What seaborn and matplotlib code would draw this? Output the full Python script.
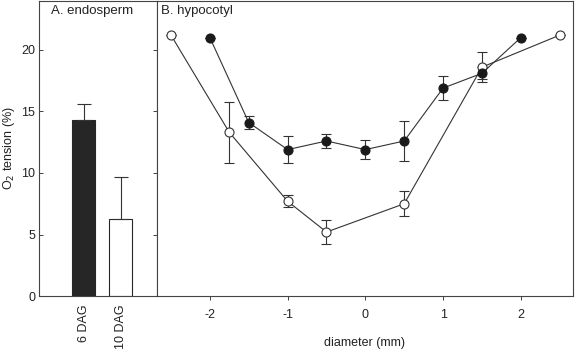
import numpy as np
import pandas as pd
import matplotlib
matplotlib.use("Agg")
import matplotlib.pyplot as plt
import seaborn as sns

# panel A: endosperm
stages = ["6 DAG", "10 DAG"]
endo_mean = [14.3, 6.3]
endo_err = [1.3, 3.4]

# panel B: hypocotyl
diam_open = [-2.5, -1.75, -1.0, -0.5, 0.5, 1.5, 2.5]
o2_open = [21.2, 13.3, 7.7, 5.2, 7.5, 18.6, 21.2]
err_open = [0, 2.5, 0.5, 1.0, 1.0, 1.2, 0]

diam_filled = [-2.0, -1.5, -1.0, -0.5, 0.0, 0.5, 1.0, 1.5, 2.0]
o2_filled = [21.0, 14.1, 11.9, 12.6, 11.9, 12.6, 16.9, 18.1, 21.0]
err_filled = [0, 0.5, 1.1, 0.55, 0.8, 1.65, 0.95, 0.5, 0]

sns.set_style("ticks")
plt.rcParams["font.family"] = ["Liberation Sans", "DejaVu Sans"]
plt.rcParams["axes.unicode_minus"] = False
line_col = "#333333"

fig = plt.figure(figsize=(5.76, 3.52), dpi=100)
ax1 = fig.add_axes([0.068, 0.159, 0.2046, 0.839])
ax2 = fig.add_axes([0.2726, 0.159, 0.722, 0.839])

# --- panel A
df_a = pd.DataFrame({"stage": stages, "o2": endo_mean})
sns.barplot(data=df_a, x="stage", y="o2", ax=ax1, width=0.62,
            palette=["#262626", "white"], hue="stage", legend=False,
            edgecolor="#262626", linewidth=0.8)
ax1.errorbar([0, 1], endo_mean, yerr=[[0, 0], endo_err], fmt="none",
             ecolor=line_col, elinewidth=0.8, capsize=5, capthick=0.8)
ax1.set_xlim(-1.2, 1.98)
ax1.set_ylim(0, 24)
ax1.set_yticks([0, 5, 10, 15, 20])
ax1.set_xlabel("")
ax1.set_ylabel("O$_2$ tension (%)", fontsize=9, color="#222222")
ax1.yaxis.set_label_coords(-0.185, 0.5)
ax1.tick_params(axis="x", rotation=90, length=0, labelsize=9, colors="#222222",
                pad=6)
ax1.tick_params(axis="y", labelsize=9, colors="#222222", length=3, width=0.6,
                right=True, direction="in", pad=3)
ax1.text(0.1, 0.985, "A. endosperm", transform=ax1.transAxes, fontsize=9.5,
         va="top", ha="left", color="#222222")

# --- panel B
df_open = pd.DataFrame({"diameter": diam_open, "o2": o2_open})
df_filled = pd.DataFrame({"diameter": diam_filled, "o2": o2_filled})
ax2.errorbar(diam_open, o2_open, yerr=err_open, fmt="none", ecolor=line_col,
             elinewidth=0.8, capsize=3.5, capthick=0.8, zorder=1)
ax2.errorbar(diam_filled, o2_filled, yerr=err_filled, fmt="none",
             ecolor=line_col, elinewidth=0.8, capsize=3.5, capthick=0.8,
             zorder=1)
sns.lineplot(data=df_open, x="diameter", y="o2", ax=ax2, color=line_col,
             linewidth=0.8, marker="o", markersize=6.5,
             markerfacecolor="white", markeredgecolor=line_col,
             markeredgewidth=0.8, zorder=3)
sns.lineplot(data=df_filled, x="diameter", y="o2", ax=ax2, color=line_col,
             linewidth=0.8, marker="o", markersize=6.5,
             markerfacecolor="#1a1a1a", markeredgecolor="#1a1a1a",
             markeredgewidth=0.8, zorder=3)
ax2.set_xlim(-2.68, 2.67)
ax2.set_ylim(0, 24)
ax2.set_xticks([-2, -1, 0, 1, 2])
ax2.set_yticks([])
ax2.set_ylabel("")
ax2.set_xlabel("diameter (mm)", fontsize=9, color="#222222", labelpad=12)
ax2.tick_params(axis="x", labelsize=9, colors="#222222", length=3, width=0.6,
                pad=6)
ax2.text(0.01, 0.985, "B. hypocotyl", transform=ax2.transAxes, fontsize=9.5,
         va="top", ha="left", color="#222222")

for ax in (ax1, ax2):
    for s in ax.spines.values():
        s.set_visible(True)
        s.set_color("#444444")
        s.set_linewidth(0.8)

fig.savefig("out.png", dpi=100)
